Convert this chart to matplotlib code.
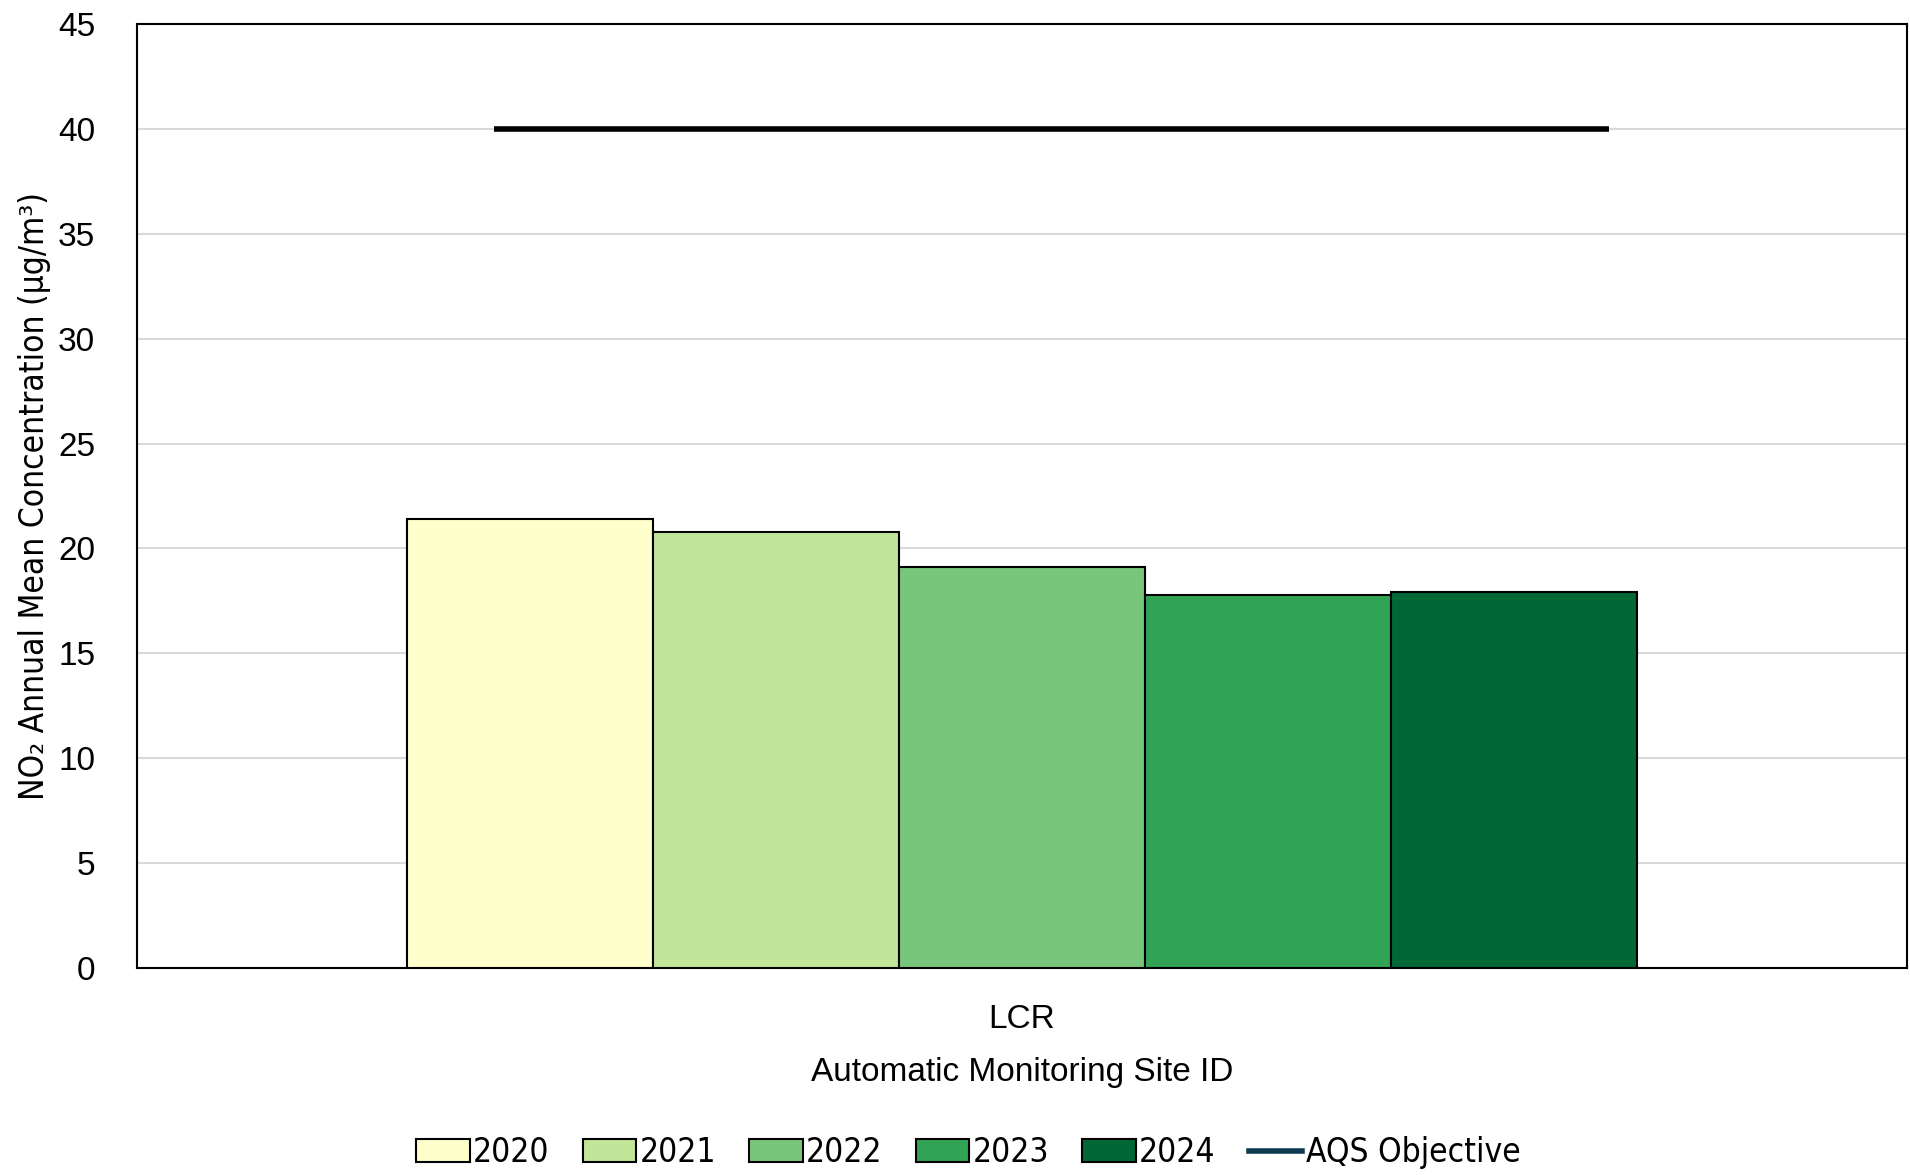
import matplotlib
matplotlib.use("Agg")
import matplotlib.pyplot as plt
from matplotlib.patches import Patch
from matplotlib.lines import Line2D
from matplotlib.font_manager import FontProperties

# annual mean NO2 at the automatic site
site = "LCR"
years = ["2020", "2021", "2022", "2023", "2024"]
no2 = [21.4, 20.8, 19.1, 17.8, 17.9]
colours = ["#FFFFCC", "#C2E699", "#78C679", "#31A354", "#006837"]
aqs_objective = 40
aqs_span = (-0.2985, 0.3315)  # extent of the objective line across the category

plt.rcParams["font.family"] = ["Liberation Sans", "DejaVu Sans"]
narrow = dict(family=["DejaVu Sans"], stretch="condensed")

fig = plt.figure(figsize=(19.1, 11.75), dpi=100)
ax = fig.add_axes([0.0717, 0.1762, 0.9267, 0.8034])

bar_w = 0.139
for i, (yr, val, c) in enumerate(zip(years, no2, colours)):
    x = (i - 2) * bar_w
    ax.bar(x, val, width=bar_w, color=c, edgecolor="black", linewidth=1.5, zorder=3)

ax.hlines(aqs_objective, aqs_span[0], aqs_span[1], color="black", linewidth=4, zorder=4)

ax.set_xlim(-0.5, 0.5)
ax.set_ylim(0, 45)
ax.set_yticks(range(0, 46, 5))
ax.set_xticks([0])
ax.set_xticklabels([site])
ax.tick_params(axis="both", length=0, labelsize=24)
ax.tick_params(axis="y", pad=30)
ax.tick_params(axis="x", pad=26)
ax.yaxis.grid(True, color="#d9d9d9", linewidth=1.5, zorder=0)
ax.set_axisbelow(True)
for s in ax.spines.values():
    s.set_color("black")
    s.set_linewidth(1.5)

ax.set_xlabel("Automatic Monitoring Site ID", fontsize=24, labelpad=16)
ax.set_ylabel("NO\u2082 Annual Mean Concentration (µg/m\u00b3)",
              fontproperties=FontProperties(size=24, **narrow), labelpad=5)

handles = [Patch(facecolor=c, edgecolor="black", linewidth=1.5) for c in colours]
handles.append(Line2D([], [], color="#0e3a4f", linewidth=4))
labels = years + ["AQS Objective"]
fig.legend(handles, labels, loc="center", bbox_to_anchor=(0.507, 0.019), ncol=6,
           frameon=False, prop=FontProperties(size=24, **narrow),
           handlelength=1.6, handleheight=0.7, handletextpad=0.1, columnspacing=1.0)

fig.savefig("out.png", dpi=100)
